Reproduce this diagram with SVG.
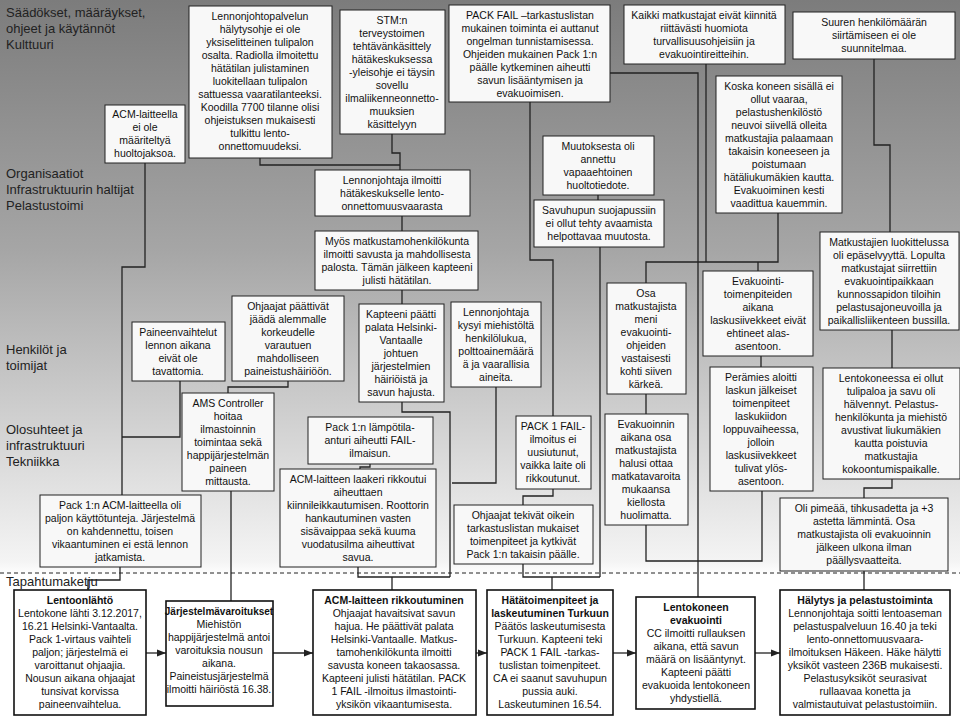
<svg xmlns="http://www.w3.org/2000/svg" width="960" height="720" viewBox="0 0 960 720">
<defs>
<linearGradient id="bg" x1="0" y1="0" x2="0" y2="1">
<stop offset="0" stop-color="#7c7c7c"/><stop offset="0.35" stop-color="#a6a6a6"/><stop offset="0.78" stop-color="#f4f4f4"/><stop offset="0.8" stop-color="#ffffff"/><stop offset="1" stop-color="#ffffff"/>
</linearGradient>
<marker id="ar" viewBox="0 0 10 10" refX="10" refY="5" markerWidth="7" markerHeight="7" orient="auto"><path d="M0,1 L10,5 L0,9 z" fill="#222"/></marker>
</defs>
<style>
.b{fill:#f8f8f8;stroke:#222;stroke-width:1}
.e{fill:#fff;stroke:#111;stroke-width:1.6}
text{font-family:"Liberation Sans",Arial,sans-serif;font-size:10.5px;fill:#111;text-anchor:middle}
.lab{font-size:13px;text-anchor:start;fill:#222}
.t{font-weight:bold}
.c{fill:none;stroke:#222;stroke-width:1.3}
</style>
<rect width="960" height="720" fill="url(#bg)"/>
<line x1="0" y1="573" x2="960" y2="573" stroke="#222" stroke-dasharray="4,3"/>
<g id="labels">
<text class="lab" x="6" y="17">Säädökset, määräykset,<tspan x="6" dy="16">ohjeet ja käytännöt</tspan><tspan x="6" dy="16">Kulttuuri</tspan></text>
<text class="lab" x="6" y="178">Organisaatiot<tspan x="6" dy="16">Infrastruktuurin haltijat</tspan><tspan x="6" dy="16">Pelastustoimi</tspan></text>
<text class="lab" x="6" y="354">Henkilöt ja<tspan x="6" dy="16">toimijat</tspan></text>
<text class="lab" x="6" y="434">Olosuhteet ja<tspan x="6" dy="16">infrastruktuuri</tspan><tspan x="6" dy="16">Tekniikka</tspan></text>
<text class="lab" x="6" y="586">Tapahtumaketju</text>
</g>
<g id="connectors">
<polyline class="c" points="145,163 145,267 122,267 122,495"/>
<polyline class="c" points="180,381 180,437 122,437"/>
<polyline class="c" points="120,567 120,580 88,580 88,590"/>
<polyline class="c" points="288,381 288,387 228,387 228,393"/>
<line class="c" x1="231" y1="491" x2="231" y2="601"/>
<polyline class="c" points="260,158 260,165 400,165"/>
<polyline class="c" points="392,134 392,153 400,153 400,170"/>
<line class="c" x1="402" y1="216" x2="402" y2="231"/>
<line class="c" x1="402" y1="290" x2="402" y2="304"/>
<polyline class="c" points="402,402 402,412 450,412 450,577"/>
<polyline class="c" points="496,387 496,483 452,483"/>
<polyline class="c" points="370,464 370,467 360,467 360,469"/>
<polyline class="c" points="358,567 358,577 450,577"/>
<line class="c" x1="392" y1="577" x2="392" y2="590"/>
<polyline class="c" points="530,102 530,260 553,260 553,416"/>
<polyline class="c" points="553,489 553,496 523,496 523,505"/>
<polyline class="c" points="523,564 523,577 600,577"/>
<line class="c" x1="552" y1="577" x2="552" y2="590"/>
<line class="c" x1="598" y1="195" x2="598" y2="200"/>
<line class="c" x1="600" y1="247" x2="600" y2="577"/>
<polyline class="c" points="610,73 698,73 698,597"/>
<polyline class="c" points="706,64 706,262"/>
<polyline class="c" points="778,213 778,262 646,262 646,283"/>
<line class="c" x1="758" y1="262" x2="758" y2="271"/>
<line class="c" x1="646" y1="394" x2="646" y2="414"/>
<polyline class="c" points="646,525 646,561 762,561 762,491"/>
<line class="c" x1="761" y1="356" x2="761" y2="367"/>
<polyline class="c" points="874,59 874,145 890,145 890,232"/>
<line class="c" x1="892" y1="330" x2="892" y2="368"/>
<polyline class="c" points="892,479 892,488 864,488 864,498"/>
<line class="c" x1="864" y1="571" x2="864" y2="590"/>
<line class="c" x1="146" y1="653" x2="166" y2="653" marker-end="url(#ar)"/>
<line class="c" x1="273" y1="653" x2="313" y2="653" marker-end="url(#ar)"/>
<line class="c" x1="476" y1="653" x2="487" y2="653" marker-end="url(#ar)"/>
<line class="c" x1="613" y1="653" x2="636" y2="653" marker-end="url(#ar)"/>
<line class="c" x1="755" y1="653" x2="780" y2="653" marker-end="url(#ar)"/>
</g>
<g id="n1"><rect class="b" x="105" y="105" width="80" height="58"/><text x="145" y="118">ACM-laitteella<tspan x="145" dy="13">ei ole</tspan><tspan x="145" dy="13">määriteltyä</tspan><tspan x="145" dy="13">huoltojaksoa.</tspan></text></g>
<g id="n2"><rect class="b" x="189" y="6" width="143" height="152"/><text x="260" y="20">Lennonjohtopalvelun<tspan x="260" dy="13">hälytysohje ei ole</tspan><tspan x="260" dy="13">yksiselitteinen tulipalon</tspan><tspan x="260" dy="13">osalta. Radiolla ilmoitettu</tspan><tspan x="260" dy="13">hätätilan julistaminen</tspan><tspan x="260" dy="13">luokitellaan tulipalon</tspan><tspan x="260" dy="13">sattuessa vaaratilanteeksi.</tspan><tspan x="260" dy="13">Koodilla 7700 tilanne olisi</tspan><tspan x="260" dy="13">ohjeistuksen mukaisesti</tspan><tspan x="260" dy="13">tulkittu lento-</tspan><tspan x="260" dy="13">onnettomuudeksi.</tspan></text></g>
<g id="n3"><rect class="b" x="340" y="10" width="105" height="124"/><text x="392" y="24">STM:n<tspan x="392" dy="13">terveystoimen</tspan><tspan x="392" dy="13">tehtävänkäsittely</tspan><tspan x="392" dy="13">hätäkeskuksessa</tspan><tspan x="392" dy="13">-yleisohje ei täysin</tspan><tspan x="392" dy="13">sovellu</tspan><tspan x="392" dy="13">ilmaliikenneonnetto-</tspan><tspan x="392" dy="13">muuksien</tspan><tspan x="392" dy="13">käsittelyyn</tspan></text></g>
<g id="n4"><rect class="b" x="449" y="5" width="161" height="97"/><text x="530" y="19">PACK FAIL –tarkastuslistan<tspan x="530" dy="13">mukainen toiminta ei auttanut</tspan><tspan x="530" dy="13">ongelman tunnistamisessa.</tspan><tspan x="530" dy="13">Ohjeiden mukainen Pack 1:n</tspan><tspan x="530" dy="13">päälle kytkeminen aiheutti</tspan><tspan x="530" dy="13">savun lisääntymisen ja</tspan><tspan x="530" dy="13">evakuoimisen.</tspan></text></g>
<g id="n5"><rect class="b" x="624" y="5" width="161" height="59"/><text x="704" y="19">Kaikki matkustajat eivät kiinnitä<tspan x="704" dy="13">riittävästi huomiota</tspan><tspan x="704" dy="13">turvallisuusohjeisiin ja</tspan><tspan x="704" dy="13">evakuointireitteihin.</tspan></text></g>
<g id="n6"><rect class="b" x="793" y="12" width="162" height="47"/><text x="874" y="26">Suuren henkilömäärän<tspan x="874" dy="13">siirtämiseen ei ole</tspan><tspan x="874" dy="13">suunnitelmaa.</tspan></text></g>
<g id="n7"><rect class="b" x="315" y="170" width="155" height="46"/><text x="392" y="184">Lennonjohtaja ilmoitti<tspan x="392" dy="13">hätäkeskukselle lento-</tspan><tspan x="392" dy="13">onnettomuusvaarasta</tspan></text></g>
<g id="n8"><rect class="b" x="543" y="136" width="111" height="59"/><text x="598" y="150">Muutoksesta oli<tspan x="598" dy="13">annettu</tspan><tspan x="598" dy="13">vapaaehtoinen</tspan><tspan x="598" dy="13">huoltotiedote.</tspan></text></g>
<g id="n9"><rect class="b" x="534" y="200" width="130" height="47"/><text x="599" y="214">Savuhupun suojapussiin<tspan x="599" dy="13">ei ollut tehty avaamista</tspan><tspan x="599" dy="13">helpottavaa muutosta.</tspan></text></g>
<g id="n10"><rect class="b" x="716" y="76" width="126" height="137"/><text x="779" y="90">Koska koneen sisällä ei<tspan x="779" dy="13">ollut vaaraa,</tspan><tspan x="779" dy="13">pelastushenkilöstö</tspan><tspan x="779" dy="13">neuvoi siivellä olleita</tspan><tspan x="779" dy="13">matkustajia palaamaan</tspan><tspan x="779" dy="13">takaisin koneeseen ja</tspan><tspan x="779" dy="13">poistumaan</tspan><tspan x="779" dy="13">hätäliukumäkien kautta.</tspan><tspan x="779" dy="13">Evakuoiminen kesti</tspan><tspan x="779" dy="13">vaadittua kauemmin.</tspan></text></g>
<g id="n11"><rect class="b" x="315" y="231" width="163" height="59"/><text x="397" y="245">Myös matkustamohenkilökunta<tspan x="397" dy="13">ilmoitti savusta ja mahdollisesta</tspan><tspan x="397" dy="13">palosta. Tämän jälkeen kapteeni</tspan><tspan x="397" dy="13">julisti hätätilan.</tspan></text></g>
<g id="n12"><rect class="b" x="232" y="296" width="112" height="85"/><text x="288" y="310">Ohjaajat päättivät<tspan x="288" dy="13">jäädä alemmalle</tspan><tspan x="288" dy="13">korkeudelle</tspan><tspan x="288" dy="13">varautuen</tspan><tspan x="288" dy="13">mahdolliseen</tspan><tspan x="288" dy="13">paineistushäiriöön.</tspan></text></g>
<g id="n13"><rect class="b" x="132" y="322" width="93" height="59"/><text x="178" y="336">Paineenvaihtelut<tspan x="178" dy="13">lennon aikana</tspan><tspan x="178" dy="13">eivät ole</tspan><tspan x="178" dy="13">tavattomia.</tspan></text></g>
<g id="n14"><rect class="b" x="359" y="304" width="85" height="98"/><text x="401" y="318">Kapteeni päätti<tspan x="401" dy="13">palata Helsinki-</tspan><tspan x="401" dy="13">Vantaalle</tspan><tspan x="401" dy="13">johtuen</tspan><tspan x="401" dy="13">järjestelmien</tspan><tspan x="401" dy="13">häiriöistä ja</tspan><tspan x="401" dy="13">savun hajusta.</tspan></text></g>
<g id="n15"><rect class="b" x="451" y="302" width="90" height="85"/><text x="496" y="316">Lennonjohtaja<tspan x="496" dy="13">kysyi miehistöltä</tspan><tspan x="496" dy="13">henkilölukua,</tspan><tspan x="496" dy="13">polttoainemäärä</tspan><tspan x="496" dy="13">ä ja vaarallisia</tspan><tspan x="496" dy="13">aineita.</tspan></text></g>
<g id="n16"><rect class="b" x="182" y="393" width="92" height="98"/><text x="228" y="407">AMS Controller<tspan x="228" dy="13">hoitaa</tspan><tspan x="228" dy="13">ilmastoinnin</tspan><tspan x="228" dy="13">toimintaa sekä</tspan><tspan x="228" dy="13">happijärjestelmän</tspan><tspan x="228" dy="13">paineen</tspan><tspan x="228" dy="13">mittausta.</tspan></text></g>
<g id="n17"><rect class="b" x="308" y="417" width="125" height="47"/><text x="370" y="431">Pack 1:n lämpötila-<tspan x="370" dy="13">anturi aiheutti FAIL-</tspan><tspan x="370" dy="13">ilmaisun.</tspan></text></g>
<g id="n18"><rect class="b" x="280" y="469" width="156" height="98"/><text x="358" y="483">ACM-laitteen laakeri rikkoutui<tspan x="358" dy="13">aiheuttaen</tspan><tspan x="358" dy="13">kiinnileikkautumisen.  Roottorin</tspan><tspan x="358" dy="13">hankautuminen vasten</tspan><tspan x="358" dy="13">sisävaippaa sekä kuuma</tspan><tspan x="358" dy="13">vuodatusilma aiheuttivat</tspan><tspan x="358" dy="13">savua.</tspan></text></g>
<g id="n19"><rect class="b" x="40" y="495" width="161" height="72"/><text x="120" y="509">Pack 1:n ACM-laitteella oli<tspan x="120" dy="13">paljon käyttötunteja. Järjestelmä</tspan><tspan x="120" dy="13">on kahdennettu, toisen</tspan><tspan x="120" dy="13">vikaantuminen ei estä lennon</tspan><tspan x="120" dy="13">jatkamista.</tspan></text></g>
<g id="n20"><rect class="b" x="516" y="416" width="75" height="73"/><text x="553" y="430">PACK 1 FAIL-<tspan x="553" dy="13">ilmoitus ei</tspan><tspan x="553" dy="13">uusiutunut,</tspan><tspan x="553" dy="13">vaikka laite oli</tspan><tspan x="553" dy="13">rikkoutunut.</tspan></text></g>
<g id="n21"><rect class="b" x="454" y="505" width="139" height="59"/><text x="523" y="519">Ohjaajat tekivät oikein<tspan x="523" dy="13">tarkastuslistan mukaiset</tspan><tspan x="523" dy="13">toimenpiteet ja kytkivät</tspan><tspan x="523" dy="13">Pack 1:n takaisin päälle.</tspan></text></g>
<g id="n22"><rect class="b" x="607" y="283" width="79" height="111"/><text x="646" y="297">Osa<tspan x="646" dy="13">matkustajista</tspan><tspan x="646" dy="13">meni</tspan><tspan x="646" dy="13">evakuointi-</tspan><tspan x="646" dy="13">ohjeiden</tspan><tspan x="646" dy="13">vastaisesti</tspan><tspan x="646" dy="13">kohti siiven</tspan><tspan x="646" dy="13">kärkeä.</tspan></text></g>
<g id="n23"><rect class="b" x="605" y="414" width="83" height="111"/><text x="646" y="428">Evakuoinnin<tspan x="646" dy="13">aikana osa</tspan><tspan x="646" dy="13">matkustajista</tspan><tspan x="646" dy="13">halusi ottaa</tspan><tspan x="646" dy="13">matkatavaroita</tspan><tspan x="646" dy="13">mukaansa</tspan><tspan x="646" dy="13">kiellosta</tspan><tspan x="646" dy="13">huolimatta.</tspan></text></g>
<g id="n24"><rect class="b" x="703" y="271" width="110" height="85"/><text x="758" y="285">Evakuointi-<tspan x="758" dy="13">toimenpiteiden</tspan><tspan x="758" dy="13">aikana</tspan><tspan x="758" dy="13">laskusiivekkeet eivät</tspan><tspan x="758" dy="13">ehtineet alas-</tspan><tspan x="758" dy="13">asentoon.</tspan></text></g>
<g id="n25"><rect class="b" x="710" y="367" width="103" height="124"/><text x="761" y="381">Perämies aloitti<tspan x="761" dy="13">laskun jälkeiset</tspan><tspan x="761" dy="13">toimenpiteet</tspan><tspan x="761" dy="13">laskukiidon</tspan><tspan x="761" dy="13">loppuvaiheessa,</tspan><tspan x="761" dy="13">jolloin</tspan><tspan x="761" dy="13">laskusiivekkeet</tspan><tspan x="761" dy="13">tulivat ylös-</tspan><tspan x="761" dy="13">asentoon.</tspan></text></g>
<g id="n26"><rect class="b" x="820" y="232" width="139" height="98"/><text x="889" y="246">Matkustajien luokittelussa<tspan x="889" dy="13">oli epäselvyyttä. Lopulta</tspan><tspan x="889" dy="13">matkustajat siirrettiin</tspan><tspan x="889" dy="13">evakuointipaikkaan</tspan><tspan x="889" dy="13">kunnossapidon tiloihin</tspan><tspan x="889" dy="13">pelastusajoneuvoilla ja</tspan><tspan x="889" dy="13">paikallisliikenteen bussilla.</tspan></text></g>
<g id="n27"><rect class="b" x="823" y="368" width="137" height="111"/><text x="891" y="382">Lentokoneessa ei ollut<tspan x="891" dy="13">tulipaloa ja savu oli</tspan><tspan x="891" dy="13">hälvennyt. Pelastus-</tspan><tspan x="891" dy="13">henkilökunta ja miehistö</tspan><tspan x="891" dy="13">avustivat liukumäkien</tspan><tspan x="891" dy="13">kautta poistuvia</tspan><tspan x="891" dy="13">matkustajia</tspan><tspan x="891" dy="13">kokoontumispaikalle.</tspan></text></g>
<g id="n28"><rect class="b" x="780" y="498" width="168" height="73"/><text x="864" y="512">Oli pimeää, tihkusadetta ja +3<tspan x="864" dy="13">astetta lämmintä.  Osa</tspan><tspan x="864" dy="13">matkustajista oli evakuoinnin</tspan><tspan x="864" dy="13">jälkeen ulkona ilman</tspan><tspan x="864" dy="13">päällysvaatteita.</tspan></text></g>
<g id="e1"><rect class="e" x="14" y="590" width="132" height="125"/><text x="80" y="604"><tspan class="t">Lentoonlähtö</tspan><tspan x="80" dy="13">Lentokone lähti 3.12.2017,</tspan><tspan x="80" dy="13">16.21 Helsinki-Vantaalta.</tspan><tspan x="80" dy="13">Pack 1-virtaus vaihteli</tspan><tspan x="80" dy="13">paljon; järjestelmä ei</tspan><tspan x="80" dy="13">varoittanut ohjaajia.</tspan><tspan x="80" dy="13">Nousun aikana ohjaajat</tspan><tspan x="80" dy="13">tunsivat korvissa</tspan><tspan x="80" dy="13">paineenvaihtelua.</tspan></text></g>
<g id="e2"><rect class="e" x="166" y="601" width="107" height="105"/><text x="219" y="615"><tspan class="t" font-size="10">Järjestelmävaroitukset</tspan><tspan x="219" dy="13">Miehistön</tspan><tspan x="219" dy="13">happijärjestelmä antoi</tspan><tspan x="219" dy="13">varoituksia nousun</tspan><tspan x="219" dy="13">aikana.</tspan><tspan x="219" dy="13">Paineistusjärjestelmä</tspan><tspan x="219" dy="13">ilmoitti häiriöstä 16.38.</tspan></text></g>
<g id="e3"><rect class="e" x="313" y="590" width="163" height="125"/><text x="394" y="604"><tspan class="t">ACM-laitteen rikkoutuminen</tspan><tspan x="394" dy="13">Ohjaajat havaitsivat savun</tspan><tspan x="394" dy="13">hajua. He päättivät palata</tspan><tspan x="394" dy="13">Helsinki-Vantaalle. Matkus-</tspan><tspan x="394" dy="13">tamohenkilökunta ilmoitti</tspan><tspan x="394" dy="13">savusta koneen takaosassa.</tspan><tspan x="394" dy="13">Kapteeni julisti hätätilan. PACK</tspan><tspan x="394" dy="13">1 FAIL -ilmoitus ilmastointi-</tspan><tspan x="394" dy="13">yksikön vikaantumisesta.</tspan></text></g>
<g id="e4"><rect class="e" x="487" y="590" width="126" height="125"/><text x="550" y="604"><tspan class="t">Hätätoimenpiteet ja</tspan><tspan class="t" x="550" dy="13">laskeutuminen Turkuun</tspan><tspan x="550" dy="13">Päätös laskeutumisesta</tspan><tspan x="550" dy="13">Turkuun. Kapteeni teki</tspan><tspan x="550" dy="13">PACK 1 FAIL -tarkas-</tspan><tspan x="550" dy="13">tuslistan toimenpiteet.</tspan><tspan x="550" dy="13">CA ei saanut savuhupun</tspan><tspan x="550" dy="13">pussia auki.</tspan><tspan x="550" dy="13">Laskeutuminen 16.54.</tspan></text></g>
<g id="e5"><rect class="e" x="636" y="597" width="119" height="112"/><text x="696" y="611"><tspan class="t">Lentokoneen</tspan><tspan class="t" x="696" dy="13">evakuointi</tspan><tspan x="696" dy="13">CC ilmoitti rullauksen</tspan><tspan x="696" dy="13">aikana, että savun</tspan><tspan x="696" dy="13">määrä on lisääntynyt.</tspan><tspan x="696" dy="13">Kapteeni päätti</tspan><tspan x="696" dy="13">evakuoida lentokoneen</tspan><tspan x="696" dy="13">yhdystiellä.</tspan></text></g>
<g id="e6"><rect class="e" x="780" y="590" width="170" height="125"/><text x="865" y="604"><tspan class="t">Hälytys ja pelastustoiminta</tspan><tspan x="865" dy="13">Lennonjohtaja soitti lentoaseman</tspan><tspan x="865" dy="13">pelastuspalveluun 16.40 ja teki</tspan><tspan x="865" dy="13">lento-onnettomuusvaara-</tspan><tspan x="865" dy="13">ilmoituksen Häkeen. Häke hälytti</tspan><tspan x="865" dy="13">yksiköt vasteen 236B mukaisesti.</tspan><tspan x="865" dy="13">Pelastusyksiköt seurasivat</tspan><tspan x="865" dy="13">rullaavaa konetta ja</tspan><tspan x="865" dy="13">valmistautuivat pelastustoimiin.</tspan></text></g>
</svg>
